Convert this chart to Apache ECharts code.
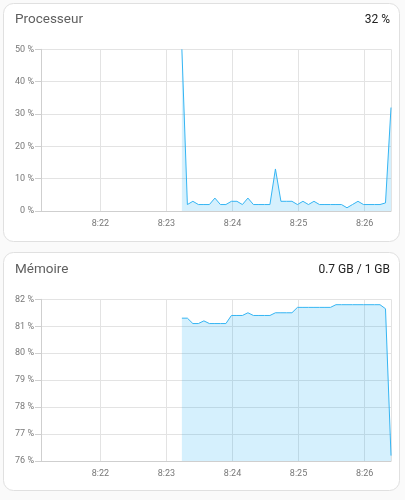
<!DOCTYPE html>
<html><head><meta charset="utf-8">
<script src="https://cdn.jsdelivr.net/npm/echarts@6/dist/echarts.min.js"></script>
<style>html,body{margin:0;padding:0;background:#fafafa;}#c{width:405px;height:500px;}</style>
</head><body><div id="c"></div>
<script>
const times = ['08:23:14','08:23:19','08:23:24','08:23:29','08:23:34','08:23:39','08:23:44','08:23:49','08:23:54','08:23:59',
 '08:24:04','08:24:09','08:24:14','08:24:19','08:24:24','08:24:29','08:24:34','08:24:39','08:24:44','08:24:49','08:24:54','08:24:59',
 '08:25:04','08:25:09','08:25:14','08:25:19','08:25:24','08:25:29','08:25:34','08:25:39','08:25:44','08:25:49','08:25:54','08:25:59',
 '08:26:04','08:26:09','08:26:14','08:26:19','08:26:24'];
const cpuValues = [50,2,3,2,2,2,4,2,2,3,
 3,2,4,2,2,2,2,13,3,3,3,2,
 3,2,3,2,2,2,2,2,1,2,3,2,
 2,2,2,2.5,32];
const memValues = [81.3,81.3,81.1,81.1,81.2,81.1,81.1,81.1,81.1,81.4,
 81.4,81.4,81.5,81.4,81.4,81.4,81.4,81.5,81.5,81.5,81.5,81.7,
 81.7,81.7,81.7,81.7,81.7,81.7,81.8,81.8,81.8,81.8,81.8,81.8,
 81.8,81.8,81.8,81.65,76.2];
const axisStart = '08:21:06';
const axisEnd = '08:26:24';
const cpuTitle = 'Processeur', cpuState = '32 %';
const memTitle = 'Mémoire', memState = '0.7 GB / 1 GB';

function ts(s){const p=s.split(':').map(Number);return new Date(2024,0,1,p[0],p[1],p[2]).getTime();}
function pair(vals){return times.map((t,i)=>[ts(t),vals[i]]);}
const FONT = 'Roboto';
const lineColor = '#35b5f3';
const fillColor = '#03a9f4';
function xAxis(gi){return {type:'time',gridIndex:gi,min:ts(axisStart),max:ts(axisEnd),minInterval:60000,maxInterval:60000,
  axisLine:{lineStyle:{color:'#cfcfcf'}},axisTick:{show:false},
  splitLine:{show:true,lineStyle:{color:'#e3e3e3'}},
  axisLabel:{color:'#777',fontFamily:FONT,fontSize:9,margin:8,showMinLabel:false,showMaxLabel:false,
   formatter:v=>{const d=new Date(v);return d.getHours()+':'+String(d.getMinutes()).padStart(2,'0');}}};}
function yAxis(gi,min,max){return {type:'value',gridIndex:gi,min:min,max:max,interval:gi===0?10:1,
  axisLine:{show:true,lineStyle:{color:'#cfcfcf'}},axisTick:{show:true,length:6,lineStyle:{color:'#cfcfcf'}},
  splitLine:{lineStyle:{color:'#e3e3e3'}},
  axisLabel:{color:'#777',fontFamily:FONT,fontSize:9,margin:7,formatter:'{value} %'}};}
const chart = echarts.init(document.getElementById('c'),null,{renderer:'canvas'});
chart.setOption({
  animation:false,
  backgroundColor:'#fafafa',
  graphic:[
    {type:'rect',shape:{x:3.5,y:3.5,width:396,height:238,r:10},style:{fill:'#fff',stroke:'#e0e0e0',lineWidth:1},z:-10},
    {type:'rect',shape:{x:3.5,y:252.5,width:396,height:238,r:10},style:{fill:'#fff',stroke:'#e0e0e0',lineWidth:1},z:-10},
    {type:'text',left:15,top:13,style:{text:cpuTitle,font:'13.5px Roboto',fill:'#5f5f5f'}},
    {type:'text',right:15,top:14,style:{text:cpuState,font:'12px Roboto',fill:'#212121'}},
    {type:'text',left:15,top:263,style:{text:memTitle,font:'13.5px Roboto',fill:'#5f5f5f'}},
    {type:'text',right:15,top:264,style:{text:memState,font:'12px Roboto',fill:'#212121'}}
  ],
  grid:[{left:41,width:350,top:49.3,height:161.7},{left:41,width:350,top:299.3,height:161.7}],
  xAxis:[xAxis(0),xAxis(1)],
  yAxis:[yAxis(0,0,50),yAxis(1,76,82)],
  series:[
    {type:'line',xAxisIndex:0,yAxisIndex:0,data:pair(cpuValues),showSymbol:false,lineStyle:{color:lineColor,width:1},areaStyle:{color:fillColor,opacity:0.17,origin:'start'},itemStyle:{color:lineColor}},
    {type:'line',xAxisIndex:1,yAxisIndex:1,data:pair(memValues),showSymbol:false,lineStyle:{color:lineColor,width:1},areaStyle:{color:fillColor,opacity:0.17,origin:'start'},itemStyle:{color:lineColor}}
  ]
});
</script></body></html>
